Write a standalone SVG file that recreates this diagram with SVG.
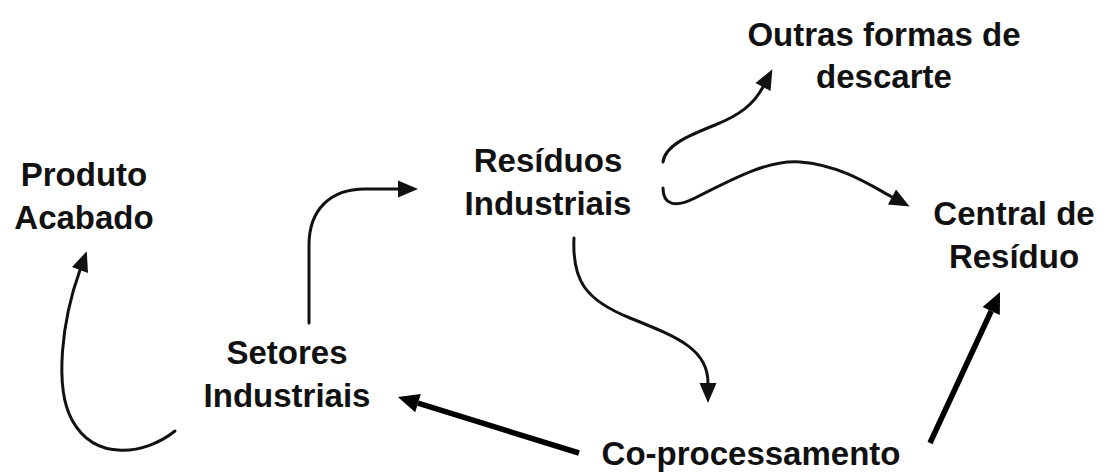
<svg xmlns="http://www.w3.org/2000/svg" width="1106" height="473" viewBox="0 0 1106 473">
  <style>
    .label { font-family: "Liberation Sans", Arial, sans-serif; font-weight: bold; font-size: 33px; fill: #111; text-anchor: middle; }
    .thin { fill: none; stroke: #111; stroke-width: 3; stroke-linecap: round; marker-end: url(#headThin); }
    .thick { fill: none; stroke: #000; stroke-width: 5.5; stroke-linecap: butt; marker-end: url(#headThick); }
  </style>
  <defs>
    <marker id="headThin" markerUnits="userSpaceOnUse" markerWidth="22" markerHeight="18" refX="0" refY="8.5" orient="auto" overflow="visible">
      <path d="M0,0 L20,8.5 L0,17 z" fill="#111"/>
    </marker>
    <marker id="headThick" markerUnits="userSpaceOnUse" markerWidth="24" markerHeight="20" refX="0" refY="9.5" orient="auto" overflow="visible">
      <path d="M0,0 L21,9.5 L0,19 z" fill="#000"/>
    </marker>
  </defs>
  <rect width="1106" height="473" fill="#fff"/>

  <g id="connectors">
    <!-- Setores Industriais -> Residuos Industriais -->
    <path class="thin" d="M309,323 L309,245 C309,210 330,189 365,189 L398,189"/>
    <!-- Setores Industriais -> Produto Acabado -->
    <path class="thin" d="M175,431 C145,455 95,462 72,420 C54,387 62,320 80,270"/>
    <!-- Residuos Industriais -> Co-processamento -->
    <path class="thin" d="M574,238 C572,280 585,300 630,318 C680,338 708,350 708,383"/>
    <!-- Residuos Industriais -> Outras formas de descarte -->
    <path class="thin" d="M663,162 C665,145 690,135 715,125 C740,115 754,104 763,87"/>
    <!-- Residuos Industriais -> Central de Residuo -->
    <path class="thin" d="M663,188 C663,205 675,208 695,198 C740,175 770,160 800,162 C840,165 870,185 892,197"/>
    <!-- Co-processamento -> Setores Industriais -->
    <path class="thick" d="M579,453 L418,403.2"/>
    <!-- Co-processamento -> Central de Residuo -->
    <path class="thick" d="M930,443 L991.2,311"/>
  </g>

  <g id="produto-acabado">
    <text class="label" x="84" y="186">Produto</text>
    <text class="label" x="84" y="229">Acabado</text>
  </g>
  <g id="residuos-industriais">
    <text class="label" x="548" y="172">Resíduos</text>
    <text class="label" x="548" y="215">Industriais</text>
  </g>
  <g id="outras-formas">
    <text class="label" x="884" y="46">Outras formas de</text>
    <text class="label" x="884" y="88">descarte</text>
  </g>
  <g id="central-residuo">
    <text class="label" x="1014" y="225">Central de</text>
    <text class="label" x="1014" y="268">Resíduo</text>
  </g>
  <g id="setores-industriais">
    <text class="label" x="287" y="364">Setores</text>
    <text class="label" x="287" y="407">Industriais</text>
  </g>
  <g id="co-processamento">
    <text class="label" x="751" y="465">Co-processamento</text>
  </g>
</svg>
